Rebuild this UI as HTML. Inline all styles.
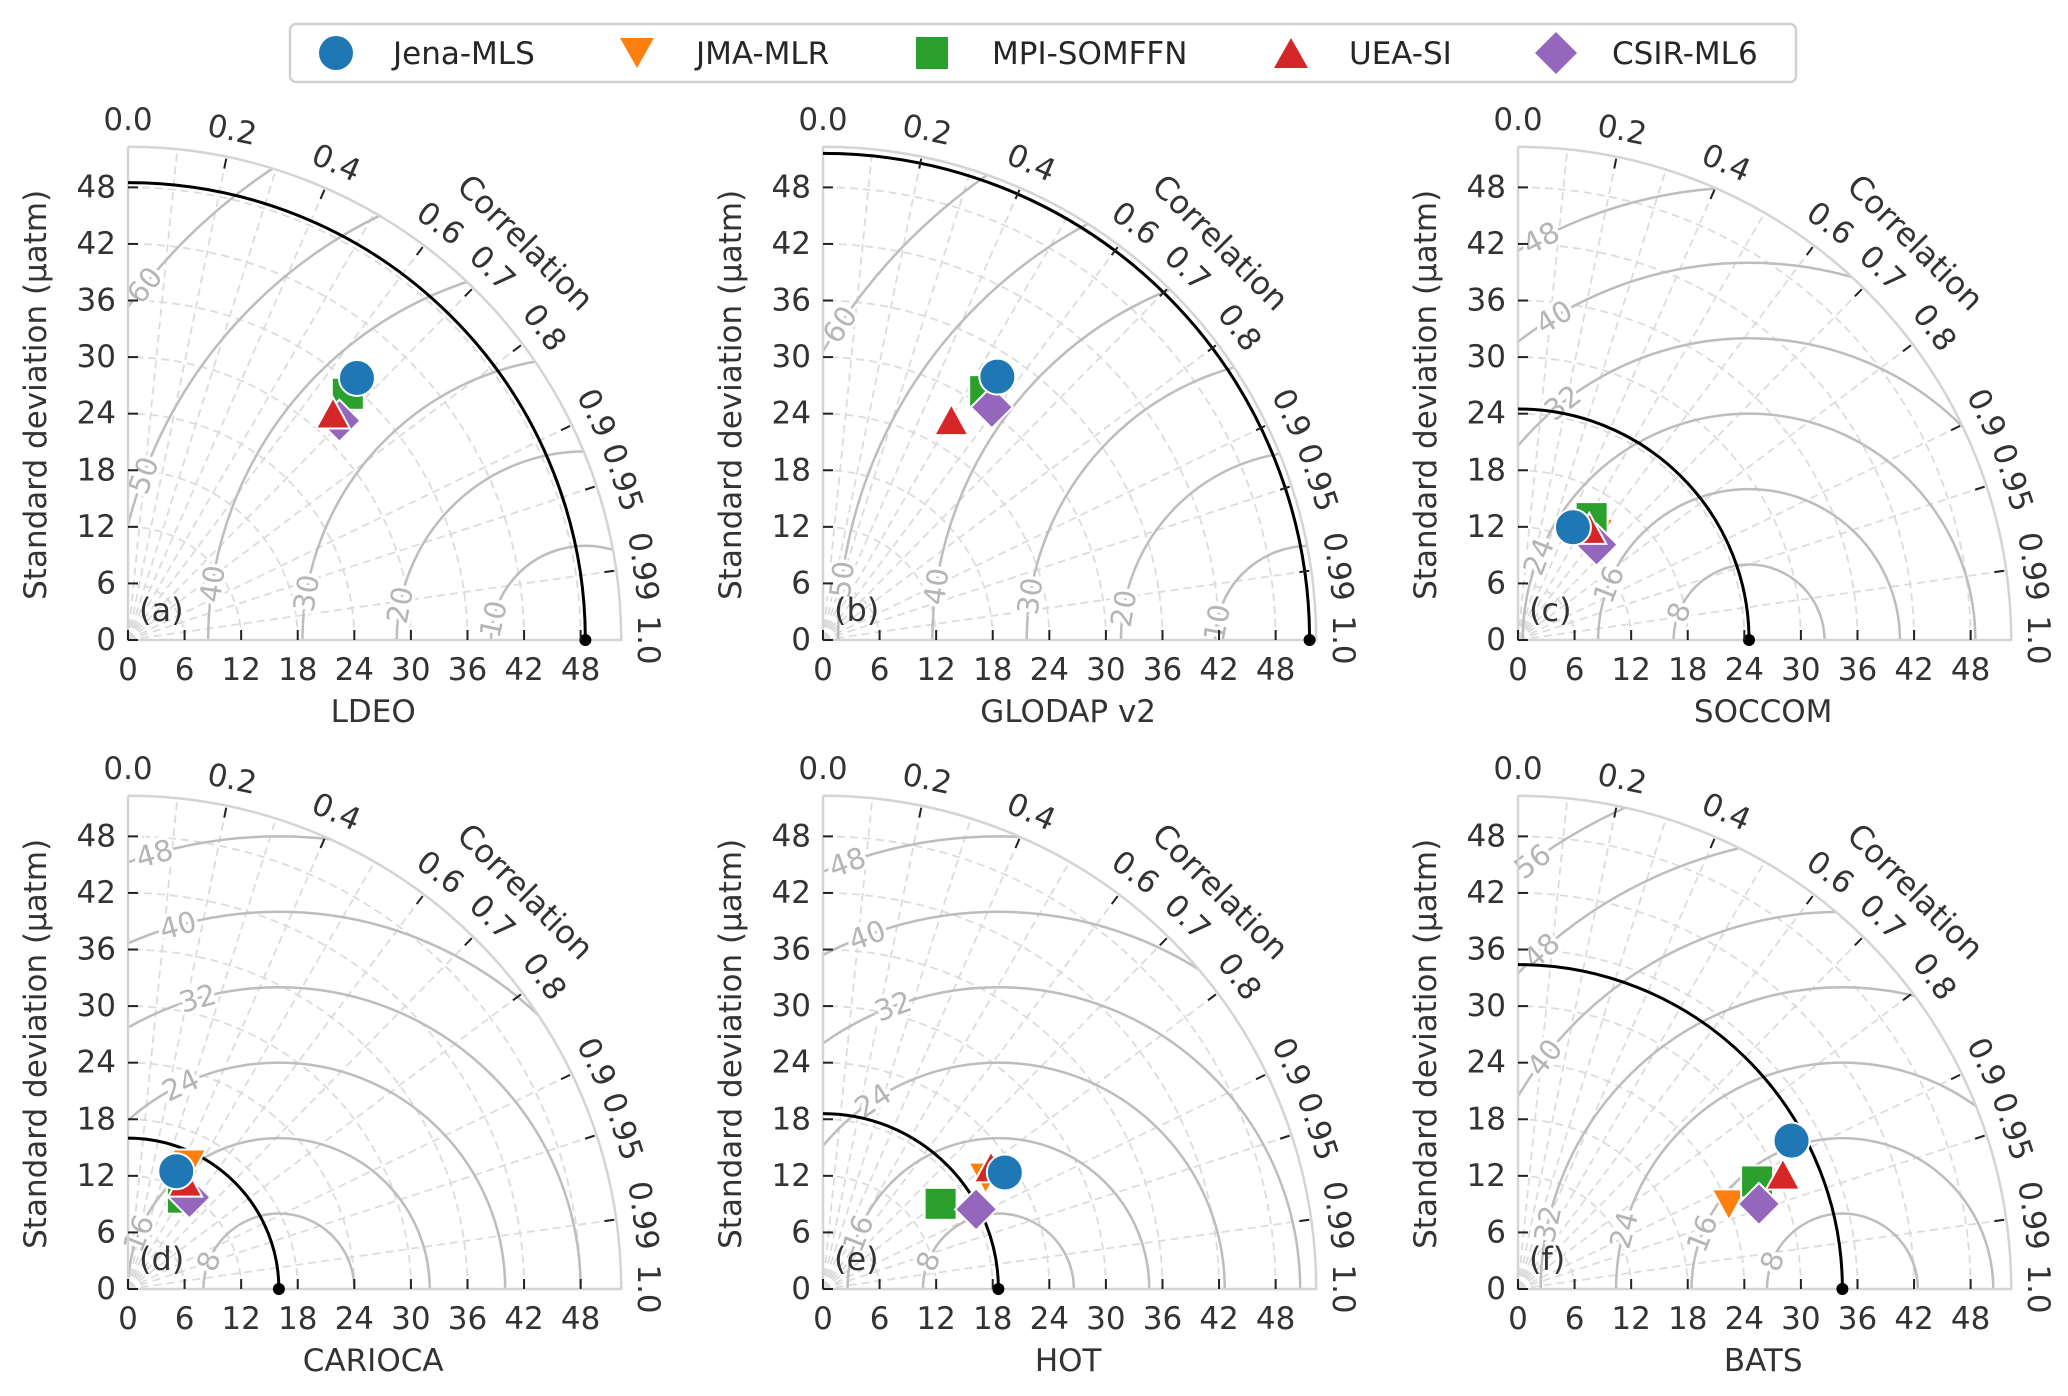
<!DOCTYPE html>
<html><head><meta charset="utf-8">
<style>
html,body{margin:0;padding:0;background:#fff;overflow:hidden;width:2068px;height:1396px;}
svg{display:block;overflow:hidden;font-family:"DejaVu Sans","Liberation Sans",sans-serif;}
</style></head>
<body>
<svg id="fig" width="2068" height="1396" viewBox="0 0 2068 1396" xmlns="http://www.w3.org/2000/svg">
<g>
  <rect x="290" y="24" width="1506" height="58" rx="6" fill="#fff" stroke="#d0d0d0" stroke-width="2.5"/>
  <g>
    <circle cx="336" cy="53" r="17" fill="#1f77b4"/>
    <text x="393" y="64" font-size="31" fill="#262626">Jena-MLS</text>
  </g>
  <g>
    <polygon points="620,38 654,38 637,68" fill="#ff7f0e"/>
    <text x="696" y="64" font-size="31" fill="#262626">JMA-MLR</text>
  </g>
  <g>
    <rect x="916" y="37" width="32" height="32" fill="#2ca02c"/>
    <text x="992" y="64" font-size="31" fill="#262626">MPI-SOMFFN</text>
  </g>
  <g>
    <polygon points="1274,68 1308,68 1291,38" fill="#d62728"/>
    <text x="1349" y="64" font-size="31" fill="#262626">UEA-SI</text>
  </g>
  <g>
    <polygon points="1556,32 1577,53 1556,74 1535,53" fill="#9467bd"/>
    <text x="1612" y="64" font-size="31" fill="#262626">CSIR-ML6</text>
  </g>
</g>
</svg>
<script>
// ---- data ----
const panelNames = ["LDEO","GLODAP v2","SOCCOM","CARIOCA","HOT","BATS"];
const panelTags = ["(a)","(b)","(c)","(d)","(e)","(f)"];
const refStd = [48.5, 51.6, 24.5, 16.0, 18.6, 34.4];
const rmsLevels = [
  [10,20,30,40,50,60],
  [10,20,30,40,50,60],
  [8,16,24,32,40,48],
  [8,16,24,32,40,48],
  [8,16,24,32,40,48],
  [8,16,24,32,40,48,56]
];
const modelNames = ["JMA-MLR","MPI-SOMFFN","CSIR-ML6","UEA-SI","Jena-MLS"];
const modelStd = [
  [34.3, 31.5, 14.0, 14.7, 20.9, 24.1],   // JMA-MLR
  [35.0, 31.5, 15.1, 11.3, 15.4, 27.8],   // MPI-SOMFFN
  [32.3, 30.5, 13.1, 11.7, 18.3, 27.1],   // CSIR-ML6
  [32.4, 27.0, 14.0, 12.9, 22.0, 30.6],   // UEA-SI
  [36.9, 33.5, 13.3, 13.5, 22.9, 33.0]    // Jena-MLS
];
const modelCorr = [
  [0.685, 0.543, 0.594, 0.44, 0.825, 0.928],
  [0.666, 0.546, 0.517, 0.515, 0.81, 0.912],
  [0.694, 0.587, 0.636, 0.557, 0.887, 0.943],
  [0.671, 0.504, 0.54, 0.47, 0.81, 0.918],
  [0.658, 0.552, 0.438, 0.379, 0.842, 0.879]
];
const stdTicks = [0,6,12,18,24,30,36,42,48];
const corrTicks = [0,0.2,0.4,0.6,0.7,0.8,0.9,0.95,0.99,1.0];
const corrTickLabels = ["0.0","0.2","0.4","0.6","0.7","0.8","0.9","0.95","0.99","1.0"];
const corrGrid = [0.1,0.2,0.3,0.4,0.5,0.6,0.7,0.8,0.9,0.95,0.99];

// ---- layout ----
const originsX = [128, 823, 1518];
const originsY = [640, 1289];
const K = 9.43;
const RMAX = 52.3;
const colors = {"JMA-MLR":"#ff7f0e","MPI-SOMFFN":"#2ca02c","CSIR-ML6":"#9467bd","UEA-SI":"#d62728","Jena-MLS":"#1f77b4"};
const NS = "http://www.w3.org/2000/svg";
const svg = document.getElementById('fig');
function mk(tag, attrs, parent){
  const e = document.createElementNS(NS, tag);
  for (const k in attrs) e.setAttribute(k, attrs[k]);
  parent.appendChild(e);
  return e;
}
function slug(s){return s.toLowerCase().replace(/[^a-z0-9]+/g,'-').replace(/-$/,'');}

panelNames.forEach((pname, p) => {
  const ox = originsX[p % 3], oy = originsY[Math.floor(p / 3)];
  const R = RMAX * K;
  const sx = (s, c) => ox + s * c * K;
  const sy = (s, c) => oy - s * Math.sqrt(Math.max(0, 1 - c * c)) * K;
  const g = mk('g', {}, svg);
  
  

  const cp = mk('clipPath', {id: 'clip' + p}, g);
  mk('path', {d: `M${ox},${oy} L${ox + R},${oy} A${R},${R} 0 0 0 ${ox},${oy - R} Z`}, cp);

  stdTicks.slice(1).forEach(s => {
    const a = mk('path', {d: `M${ox + s * K},${oy} A${s * K},${s * K} 0 0 0 ${ox},${oy - s * K}`, fill: 'none', stroke: '#dcdcdc', 'stroke-width': 1.8, 'stroke-dasharray': '8,5'}, g);
    
    
  });
  corrGrid.forEach(c => {
    const l = mk('line', {x1: ox, y1: oy, x2: sx(RMAX, c), y2: sy(RMAX, c), stroke: '#dcdcdc', 'stroke-width': 1.8, 'stroke-dasharray': '8,5'}, g);
    
    
  });

  const ref = refStd[p];
  const cg = mk('g', {'clip-path': `url(#clip${p})`}, g);
  
  
  rmsLevels[p].forEach(L => {
    const c = mk('circle', {cx: ox + ref * K, cy: oy, r: L * K, fill: 'none', stroke: '#bdbdbd', 'stroke-width': 2.5}, cg);
    
    
  });
  rmsLevels[p].forEach(L => {
    const vis = [];
    for (let d = 0; d <= 180; d += 0.5) {
      const r = d * Math.PI / 180;
      const x = ref + L * Math.cos(r), y = L * Math.sin(r);
      if (x >= 0 && y >= 0 && Math.hypot(x, y) <= RMAX) vis.push(d);
    }
    if (vis.length < 4) return;
    const lo = vis[0], hi = vis[vis.length - 1];
    const phi = hi - 0.12 * (hi - lo);
    const r = phi * Math.PI / 180;
    const x = ref + L * Math.cos(r), y = L * Math.sin(r);
    const px = ox + x * K, py = oy - y * K;
    const ang = Math.atan2(Math.cos(r), Math.sin(r)) * 180 / Math.PI;
    const t = mk('text', {x: px, y: py, 'font-size': 29, fill: '#b5b5b5', 'text-anchor': 'middle', 'dominant-baseline': 'central',
      transform: `rotate(${ang} ${px} ${py})`, stroke: '#fff', 'stroke-width': 7, 'paint-order': 'stroke'}, g);
    t.textContent = L;
    
    
  });

  const fr = mk('path', {d: `M${ox},${oy - R} L${ox},${oy} L${ox + R},${oy} A${R},${R} 0 0 0 ${ox},${oy - R}`, fill: 'none', stroke: '#d4d4d4', 'stroke-width': 2.5}, g);
  
  

  const ra = mk('path', {d: `M${ox + ref * K},${oy} A${ref * K},${ref * K} 0 0 0 ${ox},${oy - ref * K}`, fill: 'none', stroke: '#000', 'stroke-width': 3}, g);
  
  
  const rd = mk('circle', {cx: ox + ref * K, cy: oy, r: 6, fill: '#000'}, g);
  
  

  stdTicks.forEach(s => {
    const tx = mk('line', {x1: ox + s * K, y1: oy, x2: ox + s * K, y2: oy - 10, stroke: '#222', 'stroke-width': 2}, g);
    
    
    const tl = mk('text', {x: ox + s * K, y: oy + 30, 'font-size': 31, fill: '#333', 'text-anchor': 'middle', 'dominant-baseline': 'central'}, g);
    tl.textContent = s;
    
    
    const ty = mk('line', {x1: ox, y1: oy - s * K, x2: ox + 10, y2: oy - s * K, stroke: '#222', 'stroke-width': 2}, g);
    
    
    const yl = mk('text', {x: ox - 12, y: oy - s * K, 'font-size': 31, fill: '#333', 'text-anchor': 'end', 'dominant-baseline': 'central'}, g);
    yl.textContent = s;
    
    
  });

  corrTicks.forEach((c, i) => {
    const th = Math.acos(c);
    const cx = Math.cos(th), sn = Math.sin(th);
    if (c > 0 && c < 1) {
      const tk = mk('line', {x1: ox + (R - 12) * cx, y1: oy - (R - 12) * sn, x2: ox + (R - 2) * cx, y2: oy - (R - 2) * sn, stroke: '#222', 'stroke-width': 2}, g);
      
      
    }
    const lr = R + 27;
    const px = ox + lr * cx, py = oy - lr * sn;
    const rot = 90 - th * 180 / Math.PI;
    const t = mk('text', {x: px, y: py, 'font-size': 31, fill: '#333', 'text-anchor': 'middle', 'dominant-baseline': 'central', transform: `rotate(${rot} ${px} ${py})`}, g);
    t.textContent = corrTickLabels[i];
    
    
  });
  const cpx = ox + 562 * Math.cos(Math.PI / 4), cpy = oy - 562 * Math.sin(Math.PI / 4);
  const ct = mk('text', {x: cpx, y: cpy, 'font-size': 32, fill: '#333', 'text-anchor': 'middle', 'dominant-baseline': 'central', transform: `rotate(45 ${cpx} ${cpy})`}, g);
  ct.textContent = 'Correlation';
  
  

  const xt = mk('text', {x: ox + 26 * K, y: oy + 72, 'font-size': 31, fill: '#333', 'text-anchor': 'middle', 'dominant-baseline': 'central'}, g);
  xt.textContent = pname;
  
  
  const yx = ox - 92, yy = oy - 26 * K;
  const yt = mk('text', {x: yx, y: yy, 'font-size': 31, fill: '#333', 'text-anchor': 'middle', 'dominant-baseline': 'central', transform: `rotate(-90 ${yx} ${yy})`}, g);
  yt.textContent = 'Standard deviation (\u03bcatm)';
  
  
  const pt = mk('text', {x: ox + 11, y: oy - 30, 'font-size': 32, fill: '#333', 'dominant-baseline': 'central'}, g);
  pt.textContent = panelTags[p];
  
  

  modelNames.forEach((m, mi) => {
    const s = modelStd[mi][p], c = modelCorr[mi][p];
    const x = sx(s, c), y = sy(s, c);
    const col = colors[m];
    let e;
    if (m === 'Jena-MLS') e = mk('circle', {cx: x, cy: y, r: 18}, g);
    else if (m === 'MPI-SOMFFN') e = mk('rect', {x: x - 16, y: y - 16, width: 32, height: 32}, g);
    else if (m === 'JMA-MLR') e = mk('polygon', {points: `${x - 17},${y - 15} ${x + 17},${y - 15} ${x},${y + 16}`}, g);
    else if (m === 'UEA-SI') e = mk('polygon', {points: `${x - 17},${y + 15} ${x + 17},${y + 15} ${x},${y - 16}`}, g);
    else e = mk('polygon', {points: `${x},${y - 21} ${x + 21},${y} ${x},${y + 21} ${x - 21},${y}`}, g);
    e.setAttribute('fill', col);
    e.setAttribute('stroke', '#fff');
    e.setAttribute('stroke-width', '2');
    
    
  });
});
</script>
</body></html>
